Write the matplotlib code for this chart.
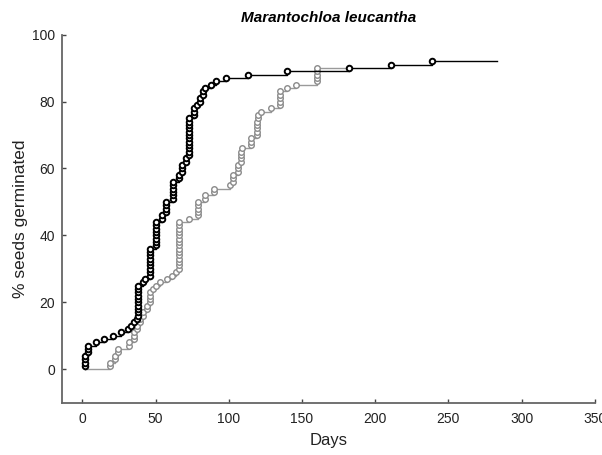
import numpy as np
import matplotlib
matplotlib.use("Agg")
import matplotlib.pyplot as plt

plt.rcParams['font.family'] = ['Liberation Sans', 'DejaVu Sans']

N_SEEDS = 100
START_DAY = 2
END_DAY = 283

# Black series: day of germination events and number of seeds germinated that day
black_days = [2, 4, 9, 15, 21, 26, 31, 33, 35, 37, 38, 41, 43, 46, 50, 54, 57, 62, 66, 68,
              71, 73, 76, 78, 80, 82, 84, 88, 91, 98, 113, 140, 182, 211, 239]
black_counts = [4, 3, 1, 1, 1, 1, 1, 1, 1, 1, 10, 1, 1, 9, 8, 2, 4, 6, 2, 3,
                2, 12, 3, 1, 2, 2, 1, 1, 1, 1, 1, 1, 1, 1, 1]

# Grey series
grey_days = [19, 22, 24, 32, 35, 37, 39, 41, 44, 46, 48, 50, 53, 58, 61, 64, 66, 73, 79, 84,
             90, 101, 103, 106, 108, 109, 115, 119, 120, 122, 129, 135, 140, 146, 160]
grey_counts = [2, 2, 2, 2, 3, 2, 2, 2, 2, 4, 1, 1, 1, 1, 1, 1, 15, 1, 5, 2,
               2, 1, 3, 3, 4, 1, 3, 5, 2, 1, 1, 5, 1, 1, 5]
GREY_END_DAY = 182

title = "Marantochloa leucantha"
xlabel = "Days"
ylabel = "% seeds germinated"
xticks = [0, 50, 100, 150, 200, 250, 300, 350]
yticks = [0, 20, 40, 60, 80, 100]

fig = plt.figure(figsize=(6.02, 4.55), dpi=100)
ax = fig.add_axes([0.103, 0.115, 0.885, 0.809])


def draw_series(days, counts, end_day, color, mcolor, lw, mew, ms, z):
    cum = np.cumsum(counts) * 100.0 / N_SEEDS
    xs = [START_DAY] + list(days) + [end_day]
    ys = [0.0] + list(cum) + [cum[-1]]
    ax.plot(xs, ys, drawstyle='steps-post', color=color, lw=lw, zorder=z)
    mx, my = [], []
    prev = 0
    for d, c in zip(days, counts):
        for k in range(1, c + 1):
            mx.append(d)
            my.append((prev + k) * 100.0 / N_SEEDS)
        prev += c
    ax.plot(mx, my, linestyle='none', marker='o', ms=ms, mfc='white', mec=mcolor,
            mew=mew, zorder=z + 0.5)


draw_series(grey_days, grey_counts, GREY_END_DAY, '#9a9a9a', '#8a8a8a', 1.0, 1.0, 4.0, 2)
draw_series(black_days, black_counts, END_DAY, '#000000', '#000000', 1.0, 1.4, 4.0, 3)

ax.set_xlim(-14, 350)
ax.set_ylim(-10, 100)
ax.set_xticks(xticks)
ax.set_yticks(yticks)

for s in ['top', 'right']:
    ax.spines[s].set_visible(False)
for s in ['left', 'bottom']:
    ax.spines[s].set_color('#666666')
    ax.spines[s].set_linewidth(1.3)

ax.tick_params(direction='in', length=3, width=1, color='#444444', labelsize=10,
               labelcolor='#222222')
ax.tick_params(axis='x', pad=7)
ax.tick_params(axis='y', pad=5)

ax.set_title(title, fontsize=11, fontweight='bold', fontstyle='italic', pad=9)
ax.set_xlabel(xlabel, fontsize=12, labelpad=5, color='#222222')
ax.set_ylabel(ylabel, fontsize=12.5, labelpad=3, color='#222222')

fig.savefig('out.png', dpi=100)
